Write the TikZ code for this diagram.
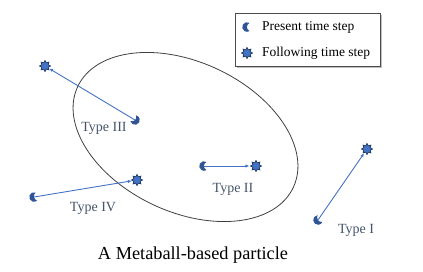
\documentclass[tikz,border=0pt]{standalone}
\usepackage{fontspec}
\setmainfont{Liberation Serif}
\usetikzlibrary{shapes.geometric,arrows.meta}
\definecolor{moonblue}{HTML}{2F5597}
\definecolor{starblue}{HTML}{4472C4}
\definecolor{stardark}{HTML}{1F3864}
\definecolor{arrblue}{HTML}{4472C4}
\definecolor{labelgray}{HTML}{44546A}
\tikzset{
  pics/moon/.style={code={
    \fill[moonblue,rotate=#1] (60:4.8) arc[start angle=60,end angle=300,radius=4.8]
      .. controls (-0.9,-1.9) and (-0.9,1.9) .. cycle;
    \coordinate (-c) at (0,0);
  }},
  starnode/.style={star,star points=8,star point ratio=1.6,minimum size=11pt,
    inner sep=0pt,fill=starblue,draw=stardark,line width=0.7pt},
  arr/.style={arrblue,line width=0.9pt,-{Latex[length=4pt,width=3.2pt]},shorten >=0.3pt},
  typelabel/.style={text=labelgray,font=\fontsize{14}{16}\selectfont,inner sep=0pt},
  legendtext/.style={anchor=west,font=\fontsize{13.5}{16}\selectfont,inner sep=0pt},
  blob/.style={draw=black!75,line width=0.8pt}
}
\begin{document}
\begin{tikzpicture}[x=1pt,y=1pt]
\useasboundingbox (0,0) rectangle (423,-271);
% metaball
\draw[blob,rotate around={-25:(185.5,-137)}] (185.5,-137) ellipse [x radius=119,y radius=75];
% legend
\fill[black!25] (236.5,-14.5) rectangle (381.5,-67.5);
\node[draw=black!70,fill=white,line width=0.8pt,minimum width=145pt,minimum height=53pt,inner sep=0pt,anchor=north west] (legend) at (235,-13) {};
\pic (lm) at (247,-27) {moon=0};
\node[starnode] (ls) at (247,-53) {};
\node[legendtext] (lt1) at (262,-27) {Present time step};
\node[legendtext] (lt2) at (262,-53) {Following time step};
% Type III
\pic (m3) at (135,-120) {moon=135};
\node[starnode] (s3) at (45,-66) {};
\draw[arr] (m3-c) -- (s3);
\node[typelabel] (t3) at (104,-128) {Type III};
% Type IV
\pic (m4) at (34,-197) {moon=10};
\node[starnode] (s4) at (137,-180) {};
\draw[arr] (m4-c) -- (s4);
\node[typelabel] (t4) at (93,-208) {Type IV};
% Type II
\pic (m2) at (204,-166) {moon=0};
\node[starnode] (s2) at (256,-166) {};
\draw[arr] (m2-c) -- (s2);
\node[typelabel] (t2) at (233,-189) {Type II};
% Type I
\pic (m1) at (318,-220) {moon=35};
\node[starnode] (s1) at (367,-149) {};
\draw[arr] (m1-c) -- (s1);
\node[typelabel] (t1) at (356,-230) {Type I};
% title
\node[font=\fontsize{18.3}{21}\selectfont,inner sep=0pt] (title) at (193,-255) {A Metaball-based particle};
\end{tikzpicture}
\end{document}
